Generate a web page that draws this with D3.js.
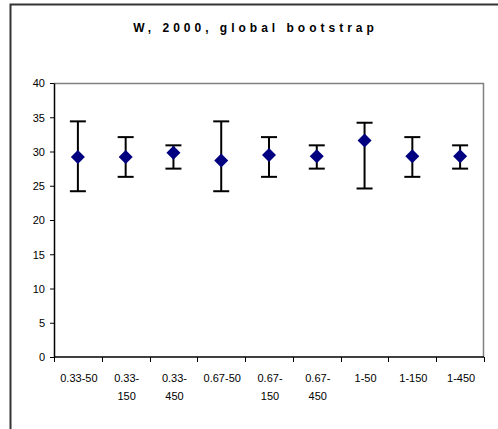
<!DOCTYPE html>
<html>
<head>
<meta charset="utf-8">
<script src="https://cdn.jsdelivr.net/npm/d3@7"></script>
<style>
  body { margin: 0; background: #fff; }
  text { font-family: "Liberation Sans", Arial, sans-serif; fill: #000; }
</style>
</head>
<body>
<div id="chart"></div>
<script>
// categories (with how the tick label wraps)
var categories = ["0.33-50", "0.33-150", "0.33-450", "0.67-50", "0.67-150", "0.67-450", "1-50", "1-150", "1-450"];
var labelLines = [["0.33-50"], ["0.33-", "150"], ["0.33-", "450"], ["0.67-50"], ["0.67-", "150"], ["0.67-", "450"], ["1-50"], ["1-150"], ["1-450"]];
var means = [29.2, 29.2, 29.8, 28.7, 29.5, 29.3, 31.6, 29.3, 29.3];
var upper = [34.4, 32.1, 30.9, 34.4, 32.1, 30.9, 34.2, 32.1, 30.9];
var lower = [24.2, 26.3, 27.5, 24.2, 26.3, 27.5, 24.6, 26.3, 27.5];
var yTicks = [0, 5, 10, 15, 20, 25, 30, 35, 40];

function init() {
    var w = 498, h = 429,
        margin = {top: 83, right: 14, bottom: 72, left: 54},
        width = w - margin.left - margin.right,
        height = h - margin.top - margin.bottom;

    var svg = d3.select("#chart")
        .append("svg")
        .attr("width", w)
        .attr("height", h);

    // outer chart frame (runs off the right and bottom edges)
    svg.append("rect")
        .attr("x", 10.5)
        .attr("y", 4.5)
        .attr("width", 500)
        .attr("height", 440)
        .attr("fill", "none")
        .attr("stroke", "#333")
        .attr("stroke-width", 2);

    // title (letter-spacing also pads the last letter, so nudge right)
    svg.append("text")
        .attr("x", 255.5)
        .attr("y", 32)
        .attr("text-anchor", "middle")
        .style("font-size", "12px")
        .style("font-weight", "bold")
        .style("letter-spacing", "4px")
        .text("W, 2000, global bootstrap");

    var g = svg.append("g")
        .attr("transform", "translate(" + margin.left + "," + margin.top + ")");

    var xScale = d3.scaleBand()
        .domain(categories)
        .range([0, width])
        .padding(0);

    var yScale = d3.scaleLinear()
        .domain([0, 40])
        .range([height, 0]);

    // plot area border: top and right in grey
    g.append("path")
        .attr("d", "M0,0.5H" + (width - 0.5) + "V" + height)
        .attr("fill", "none")
        .attr("stroke", "#808080")
        .attr("stroke-width", 1.5);

    // y axis
    var yAxis = d3.axisLeft(yScale).tickValues(yTicks).tickSize(4).tickSizeOuter(0);
    var yg = g.append("g").call(yAxis);
    yg.select(".domain").attr("stroke-width", 1.5);
    yg.selectAll("text").style("font-size", "11px").attr("x", -9).attr("dy", "0.35em");

    // x axis: ticks between the categories
    var xg = g.append("g").attr("transform", "translate(0," + height + ")");
    xg.append("line")
        .attr("x1", 0).attr("x2", width)
        .attr("stroke", "#000").attr("stroke-width", 1.5);
    var bounds = categories.map(function(c) { return xScale(c); }).concat([width]);
    xg.selectAll(".tick")
        .data(bounds)
        .enter().append("line")
        .attr("class", "tick")
        .attr("x1", d => Math.round(d) + 0.5).attr("x2", d => Math.round(d) + 0.5)
        .attr("y1", 0).attr("y2", 5)
        .attr("stroke", "#000");

    var labels = xg.selectAll(".xlabel")
        .data(categories)
        .enter().append("text")
        .attr("class", "xlabel")
        .attr("text-anchor", "middle")
        .style("font-size", "11px")
        .attr("transform", d => "translate(" + (xScale(d) + xScale.bandwidth() / 2 + 1) + ",25)");
    labels.each(function(d, i) {
        var t = d3.select(this);
        labelLines[i].forEach(function(line, j) {
            t.append("tspan").attr("x", 0).attr("y", j * 18).text(line);
        });
    });

    // error bars
    var cap = 8;
    var bars = g.selectAll(".err")
        .data(categories)
        .enter().append("g")
        .attr("class", "err")
        .attr("transform", d => "translate(" + (xScale(d) + xScale.bandwidth() / 2) + ",0)");
    bars.append("line")
        .attr("y1", (d, i) => yScale(upper[i]))
        .attr("y2", (d, i) => yScale(lower[i]))
        .attr("stroke", "#000").attr("stroke-width", 2);
    bars.append("line")
        .attr("x1", -cap).attr("x2", cap)
        .attr("y1", (d, i) => yScale(upper[i])).attr("y2", (d, i) => yScale(upper[i]))
        .attr("stroke", "#000").attr("stroke-width", 2);
    bars.append("line")
        .attr("x1", -cap).attr("x2", cap)
        .attr("y1", (d, i) => yScale(lower[i])).attr("y2", (d, i) => yScale(lower[i]))
        .attr("stroke", "#000").attr("stroke-width", 2);

    // diamond markers
    var s = 7;
    bars.append("path")
        .attr("d", (d, i) => {
            var y = yScale(means[i]);
            return "M0," + (y - s) + "L" + s + "," + y + "L0," + (y + s) + "L" + (-s) + "," + y + "Z";
        })
        .attr("fill", "#000080");
}

init();
</script>
</body>
</html>
